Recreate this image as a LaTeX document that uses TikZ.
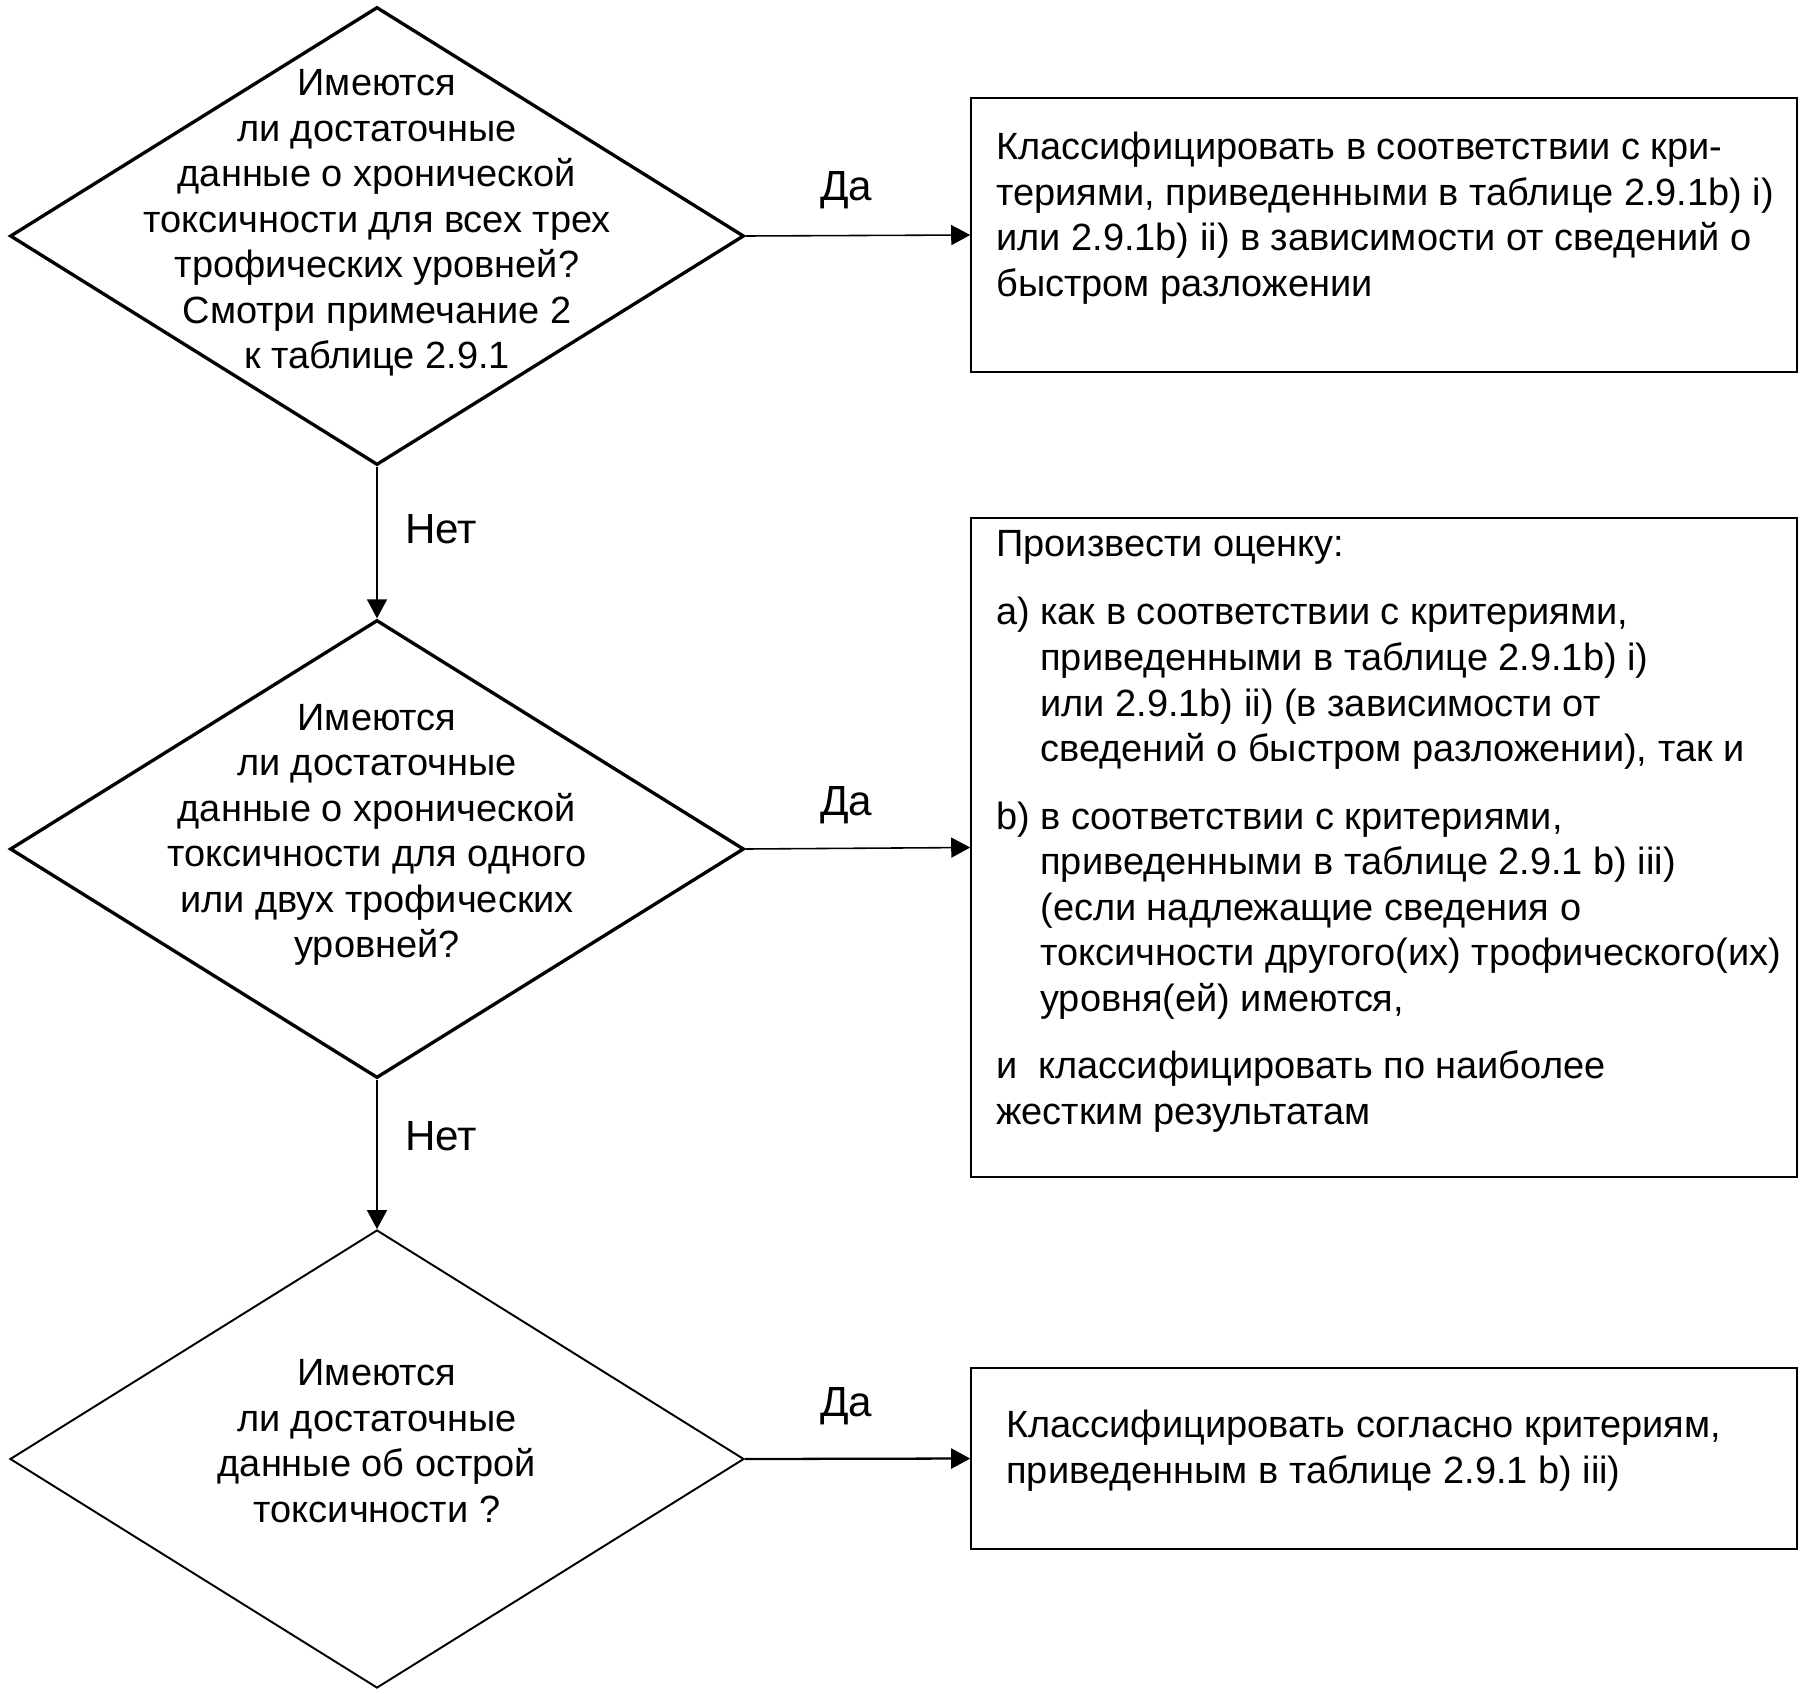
\documentclass[tikz,border=0pt]{standalone}
\usepackage{fontspec}
\setmainfont{Liberation Sans}
\usetikzlibrary{shapes.geometric,arrows.meta}
\begin{document}
\begin{tikzpicture}[
  every node/.style={font=\fontsize{21.6pt}{25.9pt}\selectfont},
  dia/.style={draw, shape=diamond, minimum width=14.68cm, minimum height=9.16cm, inner sep=0pt, line width=1.9pt},
  thindia/.style={dia, line width=1.1pt},
  qtext/.style={align=center, inner sep=0pt},
  resbox/.style={draw, line width=0.9pt, inner sep=0pt},
  btext/.style={align=left, anchor=north west, inner sep=0pt},
  lbl/.style={font=\fontsize{24pt}{28pt}\selectfont, inner sep=0pt},
  arr/.style={line width=0.9pt, -{Triangle[length=0.38cm,width=0.4cm]}},
]
\useasboundingbox (0,0) rectangle (36.12,-33.86);
\fill[white] (0,0) rectangle (36.12,-33.86);

% decisions
\node[dia] (d1) at (7.54,-4.72) {};
\node[dia] (d2) at (7.54,-16.98) {};
\node[thindia] (d3) at (7.54,-29.18) {};

\node[qtext] (q1) at (7.54,-4.46) {Имеются\\ли достаточные\\данные о хронической\\токсичности для всех трех\\трофических уровней?\\Смотри примечание 2\\к таблице 2.9.1};
\node[qtext] (q2) at (7.54,-16.70) {Имеются\\ли достаточные\\данные о хронической\\токсичности для одного\\или двух трофических\\уровней?};
\node[qtext] (q3) at (7.54,-28.82) {Имеются\\ли достаточные\\данные об острой\\токсичности ?};

% result boxes
\node[resbox, minimum width=16.52cm, minimum height=5.48cm] (b1) at (27.68,-4.70) {};
\node[resbox, minimum width=16.52cm, minimum height=13.18cm] (b2) at (27.68,-16.95) {};
\node[resbox, minimum width=16.52cm, minimum height=3.62cm] (b3) at (27.68,-29.17) {};

\node[btext] (t1) at (19.92,-2.64) {Классифицировать в соответствии с кри-\\териями, приведенными в таблице 2.9.1b) i)\\или 2.9.1b) ii) в зависимости от сведений о\\быстром разложении};
\node[btext] (t2) at (19.92,-10.60) {Произвести оценку:\\[0.46cm]
\makebox[0.88cm][l]{a)}как в соответствии с критериями,\\
\hspace*{0.88cm}приведенными в таблице 2.9.1b) i)\\
\hspace*{0.88cm}или 2.9.1b) ii) (в зависимости от\\
\hspace*{0.88cm}сведений о быстром разложении), так и\\[0.44cm]
\makebox[0.88cm][l]{b)}в соответствии с критериями,\\
\hspace*{0.88cm}приведенными в таблице 2.9.1 b) iii)\\
\hspace*{0.88cm}(если надлежащие сведения о\\
\hspace*{0.88cm}токсичности другого(их) трофического(их)\\
\hspace*{0.88cm}уровня(ей) имеются,\\[0.44cm]
и\ \ классифицировать по наиболее\\
жестким результатам};
\node[btext] (t3) at (20.12,-28.20) {Классифицировать согласно критериям,\\приведенным в таблице 2.9.1 b) iii)};

% connectors
\draw[arr] (d1.east) -- (b1.west);
\draw[arr] (d2.east) -- (b2.west);
\draw[arr, line width=1.3pt] (d3.east) -- (b3.west);
\draw[arr] (d1.south) -- (d2.north);
\draw[arr] (d2.south) -- (d3.north);

% labels
\node[lbl] (l1) at (16.92,-3.80) {Да};
\node[lbl] (l2) at (16.92,-16.10) {Да};
\node[lbl] (l3) at (16.92,-28.12) {Да};
\node[lbl] (l4) at (8.82,-10.58) {Нет};
\node[lbl] (l5) at (8.82,-22.72) {Нет};
\end{tikzpicture}
\end{document}
